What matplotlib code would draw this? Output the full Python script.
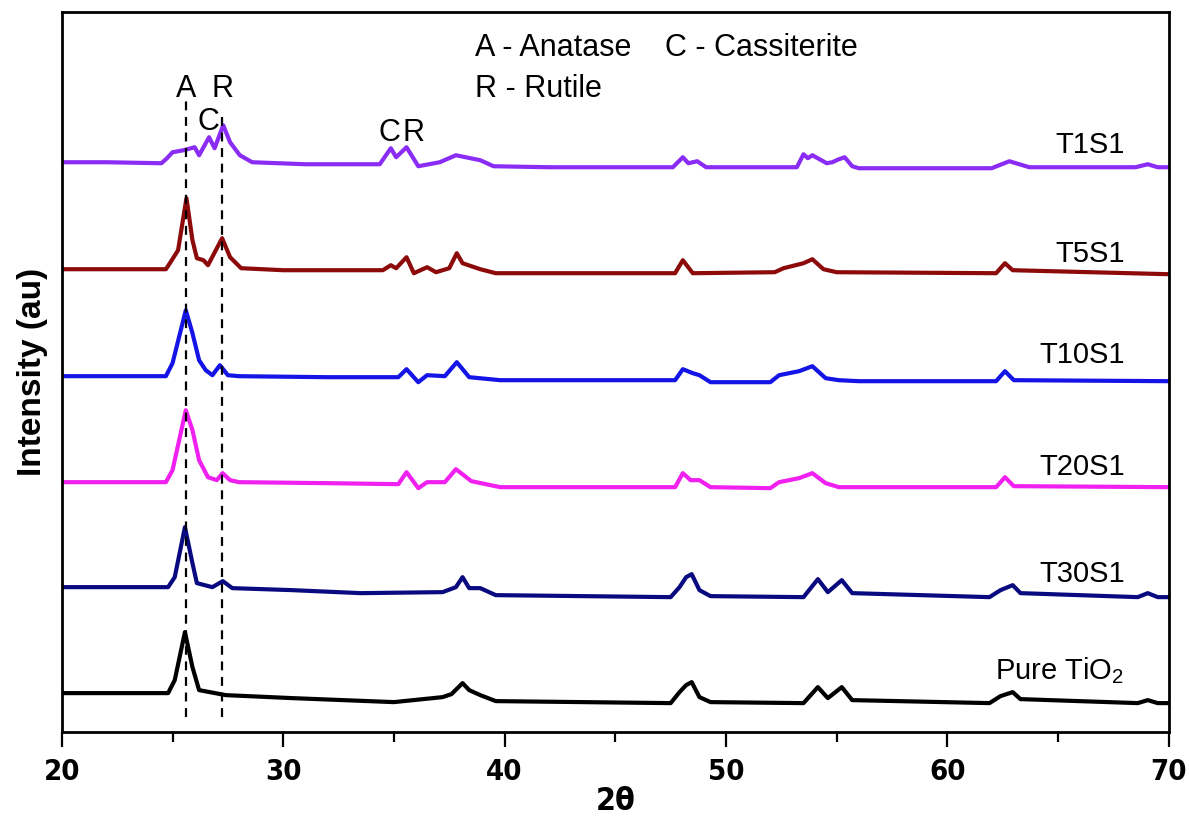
import matplotlib.pyplot as plt
from matplotlib.ticker import MultipleLocator

plt.rcParams['font.family'] = ['Liberation Sans', 'DejaVu Sans']
plt.rcParams['mathtext.fontset'] = 'custom'
plt.rcParams['mathtext.rm'] = 'Liberation Sans'

# XRD patterns, 2theta (deg) vs intensity above each pattern's own baseline
t1s1_x = [20, 22, 24.5, 24.75, 25.0, 25.5, 26.0, 26.2, 26.65, 26.9, 27.29, 27.6, 28.04, 28.6, 31, 34.36,
          34.86, 35.1, 35.57, 36.1, 37.07, 37.8, 38.9, 39.5, 42, 47.6, 48.05, 48.3, 48.7, 49.1, 53.2, 53.5,
          53.7, 53.9, 54.55, 54.8, 55.1, 55.36, 55.7, 56, 62.0, 62.8, 63.7, 68.5, 69.05, 69.5, 70]
t1s1_y = [1, 1, 0, 5, 11, 13, 16, 8, 26, 15, 38, 21, 8, 1, -1, -1,
          15, 6, 16, -3, 1, 8, 3, -3, -4, -4, 6, 0, 2, -4, -4, 9,
          5, 8, 0, 1, 4, 6, -3, -5, -5, 2, -4, -4, -1, -4, -4]

t5s1_x = [20, 24.7, 24.88, 25.25, 25.63, 25.9, 26.1, 26.4, 26.6, 27.24, 27.6, 28.1, 30, 34.5, 34.86, 35.1,
          35.57, 35.9, 36.5, 36.9, 37.5, 37.84, 38.1, 38.9, 39.6, 43, 47.7, 48.05, 48.5, 52.2, 52.6, 53.5,
          53.9, 54.4, 55, 62.2, 62.6, 62.95, 70]
t5s1_y = [0, 0, 6, 19, 71, 29, 11, 9, 4, 31, 12, 1, -1, -1, 4, 1,
          12, -4, 2, -3, 1, 16, 6, 0, -4, -4, -4, 9, -4, -3, 1, 6,
          10, 0, -3, -4, 6, -1, -5]

t10s1_x = [20, 24.7, 25.0, 25.6, 25.9, 26.2, 26.5, 26.8, 27.14, 27.5, 28, 32, 35.2, 35.57, 36.1, 36.5,
           37.3, 37.84, 38.4, 39.8, 47.7, 48.05, 48.5, 48.8, 49.3, 52.0, 52.4, 53.3, 53.9, 54.5, 55.1, 56,
           62.2, 62.6, 63.0, 70]
t10s1_y = [0, 0, 13, 66, 43, 16, 6, 1, 11, 1, 0, -1, -1, 7, -6, 1,
           0, 14, -1, -4, -4, 7, 3, 1, -6, -6, 1, 5, 10, -2, -4, -5,
           -5, 5, -4, -5]

t20s1_x = [20, 24.7, 25.0, 25.6, 25.9, 26.2, 26.6, 27.0, 27.26, 27.6, 28, 32, 35.2, 35.57, 36.1, 36.5,
           37.3, 37.8, 38.5, 39.8, 47.7, 48.05, 48.4, 48.8, 49.3, 52.0, 52.4, 53.3, 53.9, 54.5, 55.1, 56,
           62.2, 62.6, 63.0, 70]
t20s1_y = [0, 0, 12, 72, 52, 22, 5, 2, 9, 2, 0, -1, -2, 10, -6, 0,
           0, 13, 1, -5, -5, 9, 2, 2, -5, -6, 0, 4, 9, -1, -5, -5,
           -5, 5, -4, -5]

t30s1_x = [20, 24.8, 25.1, 25.56, 25.9, 26.1, 26.8, 27.27, 27.7, 30.4, 33.5, 37.2, 37.8, 38.1, 38.4, 38.9,
           39.6, 47.5, 47.9, 48.2, 48.45, 48.8, 49.3, 53.5, 54.15, 54.6, 55.23, 55.7, 61.9, 62.4, 62.95, 63.3,
           68.6, 69.05, 69.5, 70]
t30s1_y = [0, 0, 10, 60, 24, 4, 0, 6, -1, -3, -6, -5, 0, 10, -1, -1,
           -8, -10, 0, 10, 13, -3, -9, -10, 8, -5, 7, -6, -10, -3, 2, -6,
           -10, -6, -10, -10]

tio2_x = [20, 24.8, 25.1, 25.56, 25.9, 26.2, 27.4, 30.4, 35, 37.2, 37.6, 38.1, 38.4, 38.9, 39.6, 47.5,
          47.9, 48.2, 48.45, 48.8, 49.3, 53.5, 54.15, 54.6, 55.23, 55.7, 61.9, 62.4, 62.95, 63.3, 68.6, 69.05,
          69.5, 70]
tio2_y = [0, 0, 13, 61, 26, 3, -2, -5, -9, -4, -1, 10, 3, -2, -8, -10,
          1, 8, 11, -4, -9, -10, 6, -5, 6, -7, -10, -3, 1, -6, -10, -7,
          -10, -10]

names = ['T1S1', 'T5S1', 'T10S1', 'T20S1', 'T30S1', 'Pure TiO$_2$']
offsets = [569, 463, 356, 250, 145, 39]
label_y = [579, 470, 369, 257, 150, 53]
colors = ['#8B2CF5', '#8C0A0A', '#1414E6', '#F020F0', '#0A0A80', '#000000']
xs = [t1s1_x, t5s1_x, t10s1_x, t20s1_x, t30s1_x, tio2_x]
ys = [t1s1_y, t5s1_y, t10s1_y, t20s1_y, t30s1_y, tio2_y]

fig = plt.figure(figsize=(11.89, 8.18), dpi=100)
ax = fig.add_axes([0.052, 0.105, 0.931, 0.880])

for x, y, off, c in zip(xs, ys, offsets, colors):
    ax.plot(x, [v + off for v in y], color=c, lw=3.0, solid_joinstyle='round')

for name, ly in zip(names, label_y):
    ax.text(68.0, ly, name, ha='right', va='baseline', fontsize=21)

# reference lines for anatase (101) and rutile (110)
ax.plot([25.6, 25.6], [15, 632], color='black', lw=1.6, ls=(0, (4, 3)))
ax.plot([27.25, 27.25], [15, 617], color='black', lw=1.6, ls=(0, (4, 3)))

ax.text(25.6, 635, 'A', ha='center', va='baseline', fontsize=22)
ax.text(27.27, 635, 'R', ha='center', va='baseline', fontsize=22)
ax.text(26.64, 602, 'C', ha='center', va='baseline', fontsize=22)
ax.text(34.8, 591, 'C', ha='center', va='baseline', fontsize=22)
ax.text(35.9, 591, 'R', ha='center', va='baseline', fontsize=22)

ax.text(38.65, 676, 'A - Anatase', ha='left', va='baseline', fontsize=22)
ax.text(47.24, 676, 'C - Cassiterite', ha='left', va='baseline', fontsize=22)
ax.text(38.65, 635, 'R - Rutile', ha='left', va='baseline', fontsize=22)

ax.set_xlim(20, 70)
ax.set_ylim(0, 720)
ax.xaxis.set_major_locator(MultipleLocator(10))
ax.xaxis.set_minor_locator(MultipleLocator(5))
ax.tick_params(axis='x', which='major', direction='out', length=11, width=1.6, pad=8)
ax.tick_params(axis='x', which='minor', direction='out', length=7, width=1.6)
ax.set_yticks([])
for lab in ax.get_xticklabels():
    lab.set_family('DejaVu Sans')
    lab.set_stretch('condensed')
    lab.set_fontweight('bold')
    lab.set_fontsize(21)
for s in ax.spines.values():
    s.set_linewidth(2)

ax.set_xlabel('2θ', fontsize=23, fontweight='bold', labelpad=0,
              family='DejaVu Sans', fontstretch='condensed')
ax.set_ylabel('Intensity (au)', fontsize=24, fontweight='bold', labelpad=10)

fig.savefig('out.png', dpi=100)
